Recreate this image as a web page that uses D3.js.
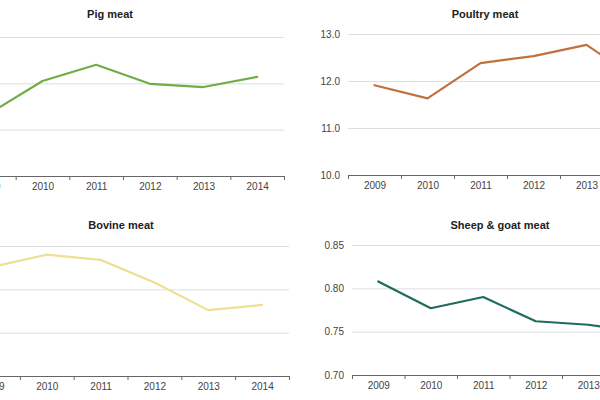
<!DOCTYPE html>
<html>
<head>
<meta charset="utf-8">
<script src="https://cdn.jsdelivr.net/npm/d3@7"></script>
<style>
  body { margin: 0; background: #fff; }
  svg { display: block; font-family: "Liberation Sans", Arial, sans-serif; }
</style>
</head>
<body>
<svg width="600" height="400"></svg>
<script>
var years = [2009, 2010, 2011, 2012, 2013, 2014];

var pigMeat = [21.34, 22.05, 22.40, 21.99, 21.92, 22.14];
var poultryMeat = [11.91, 11.63, 12.38, 12.53, 12.77, 12.0];
var bovineMeat = [7.76, 7.90, 7.84, 7.58, 7.26, 7.32];
var sheepGoatMeat = [0.808, 0.777, 0.790, 0.762, 0.758, 0.750];

var pigTicks = [20, 21, 22, 23];
var poultryTicks = [10, 11, 12, 13];
var bovineTicks = [6.5, 7.0, 7.5, 8.0];
var sheepTicks = [0.70, 0.75, 0.80, 0.85];

var svg = d3.select("svg");

// each panel: plot box in page pixels (left panels run off the left edge)
function panel(opt) {
  var g = svg.append("g");
  var w = opt.right - opt.left,
    h = opt.bottom - opt.top;

  var x = d3.scaleLinear().domain([2008.5, 2014.5]).range([opt.left, opt.right]);
  var y = d3.scaleLinear().domain(d3.extent(opt.ticks)).range([opt.bottom, opt.top]);

  // gridlines + y labels
  var ya = g.append("g")
    .attr("transform", "translate(" + opt.left + ",0)")
    .call(d3.axisLeft(y).tickValues(opt.ticks).tickSize(-w).tickPadding(8).tickFormat(d3.format(opt.fmt)));
  ya.select(".domain").remove();
  ya.selectAll("line").attr("stroke", "#dedede").attr("stroke-width", 1);
  ya.selectAll("text").attr("fill", "#444").style("font-size", "10px");

  // x axis: marks at band edges, labels at year centres
  g.append("g")
    .attr("transform", "translate(0," + opt.bottom + ")")
    .call(d3.axisBottom(x).tickValues(d3.range(2008.5, 2015, 1)).tickSize(4).tickSizeOuter(0).tickFormat(""))
    .call(function(s) {
      s.select(".domain").attr("stroke", "#666").attr("stroke-width", 1.2);
      s.selectAll("line").attr("stroke", "#666");
    });

  var xl = g.append("g")
    .attr("transform", "translate(0," + opt.bottom + ")")
    .call(d3.axisBottom(x).tickValues(years).tickSize(0).tickPadding(7).tickFormat(d3.format("d")));
  xl.select(".domain").remove();
  xl.selectAll("text").attr("fill", "#444").style("font-size", "10px");

  var line = d3.line()
    .x(function(d, i) { return x(years[i]); })
    .y(function(d) { return y(d); });

  g.append("path")
    .datum(opt.values)
    .attr("fill", "none")
    .attr("stroke", opt.color)
    .attr("stroke-width", 2.2)
    .attr("stroke-linejoin", "round")
    .attr("stroke-linecap", "round")
    .attr("d", line);

  g.append("text")
    .attr("x", opt.titleX)
    .attr("y", opt.titleY)
    .attr("text-anchor", "middle")
    .style("font-size", "11px")
    .style("font-weight", "bold")
    .attr("fill", "#222")
    .text(opt.title);
}

panel({ title: "Pig meat", titleX: 110, titleY: 18, values: pigMeat, ticks: pigTicks, fmt: ".1f",
  left: -38, right: 284, top: 37, bottom: 176, color: "#6fae46" });
panel({ title: "Poultry meat", titleX: 485, titleY: 18, values: poultryMeat, ticks: poultryTicks, fmt: ".1f",
  left: 348, right: 666, top: 34, bottom: 175, color: "#c2703d" });
panel({ title: "Bovine meat", titleX: 121, titleY: 229, values: bovineMeat, ticks: bovineTicks, fmt: ".1f",
  left: -34, right: 289, top: 246, bottom: 376, color: "#eedf95" });
panel({ title: "Sheep & goat meat", titleX: 500, titleY: 229, values: sheepGoatMeat, ticks: sheepTicks, fmt: ".2f",
  left: 352, right: 667, top: 245, bottom: 375, color: "#1f6b5e" });
</script>
</body>
</html>
